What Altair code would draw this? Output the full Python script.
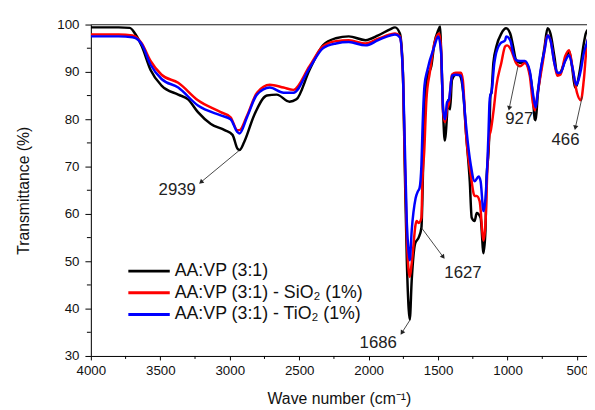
import math
import altair as alt
import pandas as pd

# ---------------- data ----------------
names = ["AA:VP (3:1)", "AA:VP (3:1) - SiO₂ (1%)", "AA:VP (3:1) - TiO₂ (1%)"]
colors = ["#000000", "#ff0000", "#0000ff"]

black_wn = [4000, 3800, 3720, 3680, 3633, 3570, 3491, 3371, 3300, 3229, 3136, 3037, 2980, 2945, 2930,
            2896, 2825, 2733, 2662, 2570, 2520, 2426, 2329, 2236, 2143, 2023, 1931, 1846, 1810, 1775,
            1754, 1740, 1725, 1712, 1704, 1690, 1665, 1640, 1620, 1613, 1606, 1598, 1577, 1549, 1527,
            1499, 1485, 1478, 1464, 1452, 1436, 1430, 1414, 1400, 1372, 1350, 1336, 1315, 1301, 1272,
            1258, 1237, 1222, 1194, 1173, 1159, 1152, 1137, 1130, 1123, 1116, 1102, 1080, 1045, 1010,
            981, 960, 939, 910, 875, 840, 818, 804, 797, 783, 762, 733, 712, 691, 663, 641, 620, 585,
            557, 536, 514, 500, 479, 451, 437, 420]
black_t = [99.4, 99.4, 99.3, 98.0, 95.4, 90.4, 87.1, 85.2, 84.2, 81.5, 79.0, 77.7, 76.7, 73.8, 73.5,
           75.2, 80.8, 85.0, 85.2, 83.7, 84.2, 90.4, 95.6, 97.1, 97.5, 96.7, 97.7, 99.0, 99.4, 98.1,
           90.4, 70.0, 50.0, 40.0, 37.7, 46.0, 53.8, 55.0, 57.1, 63.3, 73.0, 82.9, 89.2, 91.2, 96.0,
           98.8, 99.6, 94.0, 81.5, 75.5, 80.8, 84.0, 82.1, 88.3, 89.4, 89.4, 88.8, 84.2, 77.9, 66.9,
           59.2, 58.5, 60.2, 59.2, 51.7, 56.5, 66.9, 73.1, 77.9, 85.0, 85.6, 91.9, 95.4, 98.1, 99.2,
           98.1, 95.4, 92.5, 91.9, 92.1, 89.8, 85.0, 80.0, 79.8, 85.0, 89.8, 95.4, 99.2, 98.1, 93.3,
           89.4, 89.8, 92.5, 94.4, 91.2, 86.7, 87.3, 90.4, 96.0, 98.1, 99.0]

red_wn = [4000, 3800, 3700, 3660, 3633, 3570, 3491, 3371, 3229, 3065, 2994, 2945, 2930, 2875, 2804,
          2712, 2613, 2542, 2426, 2329, 2236, 2143, 2023, 1931, 1846, 1810, 1775, 1754, 1740, 1725,
          1712, 1704, 1690, 1655, 1640, 1620, 1613, 1600, 1584, 1560, 1527, 1492, 1478, 1464, 1450,
          1436, 1421, 1400, 1372, 1336, 1322, 1301, 1294, 1265, 1237, 1222, 1201, 1173, 1159, 1144,
          1130, 1123, 1102, 1080, 1045, 1017, 1003, 974, 939, 910, 875, 840, 818, 804, 783, 747, 712,
          691, 663, 641, 620, 585, 557, 529, 500, 472, 451, 430, 420]
red_t = [97.9, 97.9, 97.7, 97.0, 96.0, 92.3, 89.4, 87.7, 84.0, 81.5, 80.4, 77.7, 77.7, 80.8, 85.6,
         87.3, 86.7, 86.2, 91.2, 95.4, 96.5, 96.7, 96.0, 97.0, 97.9, 98.1, 97.5, 90.0, 72.0, 55.0,
         48.0, 46.7, 49.6, 58.5, 58.1, 59.2, 66.9, 73.1, 84.2, 89.8, 96.0, 98.1, 94.6, 81.5, 79.4,
         82.1, 83.5, 89.4, 89.8, 89.8, 88.3, 77.9, 75.2, 68.3, 63.8, 63.8, 62.7, 54.4, 57.9, 70.4,
         76.7, 77.3, 81.5, 87.1, 91.9, 95.4, 95.6, 94.6, 91.9, 91.2, 91.9, 89.2, 83.5, 81.9, 85.6,
         91.9, 97.7, 96.7, 91.9, 89.2, 89.4, 93.3, 94.6, 90.2, 85.6, 84.0, 88.3, 95.4, 97.0]

blue_wn = [4000, 3800, 3700, 3660, 3633, 3570, 3491, 3371, 3229, 3065, 2994, 2945, 2930, 2875, 2804,
           2712, 2613, 2542, 2426, 2329, 2236, 2143, 2023, 1931, 1846, 1810, 1775, 1754, 1740, 1725,
           1712, 1704, 1690, 1662, 1645, 1634, 1620, 1613, 1598, 1577, 1527, 1499, 1478, 1464, 1450,
           1436, 1421, 1400, 1372, 1336, 1301, 1294, 1265, 1237, 1208, 1194, 1173, 1159, 1144, 1137,
           1130, 1123, 1116, 1095, 1087, 1052, 1017, 1010, 981, 960, 939, 910, 875, 840, 818, 797,
           783, 762, 733, 712, 691, 663, 641, 620, 585, 557, 529, 507, 500, 472, 451, 430, 420]
blue_t = [97.5, 97.5, 97.3, 96.8, 95.8, 91.5, 88.5, 86.7, 82.9, 80.8, 80.0, 77.3, 77.0, 80.5, 85.2,
          86.7, 85.6, 85.6, 90.8, 95.0, 96.0, 96.3, 95.6, 96.7, 97.7, 97.9, 97.3, 90.0, 75.0, 58.0,
          52.0, 50.2, 56.5, 63.3, 64.8, 65.4, 70.4, 77.3, 87.1, 90.4, 95.4, 97.5, 94.0, 82.1, 80.0,
          83.5, 84.2, 89.2, 89.4, 89.2, 79.4, 77.3, 70.4, 66.9, 67.9, 66.9, 60.6, 63.3, 71.7, 77.3,
          83.5, 85.2, 85.6, 91.9, 93.3, 96.0, 96.7, 97.5, 96.7, 94.0, 92.5, 92.3, 92.3, 90.2, 85.6,
          82.5, 85.6, 90.4, 94.6, 97.7, 96.7, 91.9, 89.8, 89.8, 92.3, 93.5, 90.4, 87.3, 87.5, 90.4,
          94.0, 96.0, 97.0]

# annotations: label, text position, arrow start (on curve), arrow tip
ann_labels = ["2939", "1686", "1627", "927", "466"]
ann_text_x = [3378, 1931, 1321, 916, 583]
ann_text_y = [65.1, 32.8, 47.6, 80.0, 75.7]
ann_x0 = [2932, 1698, 1620, 924, 462]
ann_y0 = [73.4, 37.8, 57.1, 91.3, 84.8]
ann_x1 = [3208, 1761, 1463, 988, 512]
ann_y1 = [66.7, 34.9, 50.9, 82.3, 78.2]

x_major = [4000, 3500, 3000, 2500, 2000, 1500, 1000, 500]
x_minor = [3750, 3250, 2750, 2250, 1750, 1250, 750]
y_major = [30, 40, 50, 60, 70, 80, 90, 100]
y_minor = [35, 45, 55, 65, 75, 85, 95]

# ---------------- layout ----------------
W, H = 503, 336
XMIN, XMAX = 428, 4000
YMIN, YMAX = 30, 100
FONT = "Liberation Sans"

xscale = alt.Scale(domain=[XMIN, XMAX], reverse=True, nice=False, zero=False)
yscale = alt.Scale(domain=[YMIN, YMAX], nice=False, zero=False)

x_axis = alt.Axis(values=x_major, format="d", tickSize=4, tickColor="#000", domainColor="#000",
                  labelFontSize=13.5, labelFont=FONT, labelColor="#111", labelPadding=4,
                  labelFlush=False, labelOverlap=False,
                  grid=False, title="Wave number (cm⁻¹)", titleFont=FONT, titleFontSize=16,
                  titleFontWeight="normal", titleColor="#111", titlePadding=14)
y_axis = alt.Axis(values=y_major, format="d", tickSize=6, tickColor="#000", domainColor="#000",
                  labelFontSize=13.5, labelFont=FONT, labelColor="#111", labelPadding=6,
                  labelOverlap=False,
                  grid=False, title="Transmittance (%)", titleFont=FONT, titleFontSize=16,
                  titleFontWeight="normal", titleColor="#111", titlePadding=26)


def X(field):
    return alt.X(field, scale=xscale, axis=x_axis)


def Y(field):
    return alt.Y(field, scale=yscale, axis=y_axis)


layers = []

series = [(black_wn, black_t), (red_wn, red_t), (blue_wn, blue_t)]
for i, (wn, t) in enumerate(series):
    d = pd.DataFrame({"wn": wn, "T": t})
    layers.append(
        alt.Chart(d).mark_line(color=colors[i], strokeWidth=2.5, clip=True, interpolate="monotone").encode(
            x=X("wn:Q"), y=Y("T:Q"), order=alt.Order("wn:Q"))
    )

# top frame line
layers.append(
    alt.Chart(pd.DataFrame({"v": [100]})).mark_rule(color="#555", strokeWidth=1.3).encode(
        y=Y("v:Q"), x=alt.value(0), x2=alt.value(W))
)

# minor ticks
layers.append(
    alt.Chart(pd.DataFrame({"wn": x_minor})).mark_rule(color="#000", strokeWidth=1).encode(
        x=X("wn:Q"), y=alt.value(H), y2=alt.value(H + 3))
)
layers.append(
    alt.Chart(pd.DataFrame({"v": y_minor})).mark_rule(color="#000", strokeWidth=1).encode(
        y=Y("v:Q"), x=alt.value(0), x2=alt.value(-4))
)

# annotation arrows
sx = W / (XMAX - XMIN)
sy = H / (YMAX - YMIN)
angles = []
for a, b, c, d in zip(ann_x0, ann_y0, ann_x1, ann_y1):
    dx = -(c - a) * sx
    dy = -(d - b) * sy
    angles.append(math.degrees(math.atan2(dx, -dy)) % 360)
ann = pd.DataFrame({"label": ann_labels, "tx": ann_text_x, "ty": ann_text_y,
                    "x0": ann_x0, "y0": ann_y0, "x1": ann_x1, "y1": ann_y1, "ang": angles})
layers.append(
    alt.Chart(ann).mark_rule(color="#333", strokeWidth=0.9).encode(
        x=X("x0:Q"), x2="x1:Q", y=Y("y0:Q"), y2="y1:Q")
)
layers.append(
    alt.Chart(ann).mark_point(shape="triangle-up", filled=True, size=28, color="#222", opacity=1).encode(
        x=X("x1:Q"), y=Y("y1:Q"), angle=alt.Angle("ang:Q", scale=None))
)
layers.append(
    alt.Chart(ann).mark_text(font=FONT, fontSize=17, color="#222", align="center", baseline="middle").encode(
        x=X("tx:Q"), y=Y("ty:Q"), text="label:N")
)

# legend (manual)
leg_y0, leg_dy = 250, 22
for i, (nm, col) in enumerate(zip(names, colors)):
    ld = pd.DataFrame({"name": [nm]})
    yy = leg_y0 + i * leg_dy
    layers.append(
        alt.Chart(ld).mark_rule(color=col, strokeWidth=3).encode(
            x=alt.value(38), x2=alt.value(80), y=alt.value(yy))
    )
    layers.append(
        alt.Chart(ld).mark_text(font=FONT, fontSize=18, color="#111", align="left", baseline="middle").encode(
            x=alt.value(85), y=alt.value(yy), text="name:N")
    )

chart = alt.layer(*layers).properties(
    width=W, height=H,
    autosize=alt.AutoSizeParams(type="none"),
    padding={"left": 84, "top": 14, "right": 0, "bottom": 52},
).configure_view(stroke=None).configure(background="white")

chart.save("out.html", embed_options={"renderer": "svg", "actions": False})
